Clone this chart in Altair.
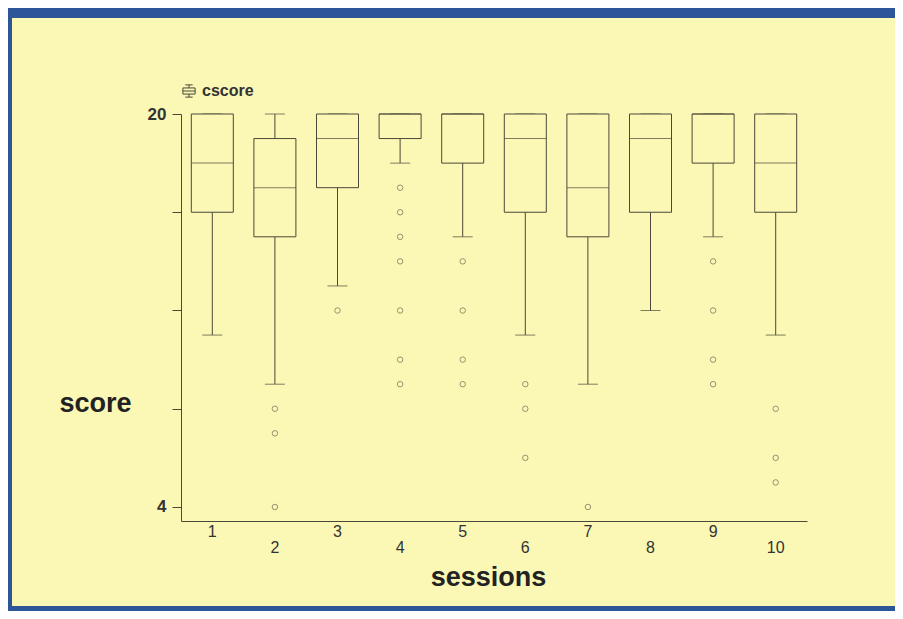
import altair as alt
import pandas as pd

# ---- data ----
sessions = ["1", "2", "3", "4", "5", "6", "7", "8", "9", "10"]
whisker_low = [11, 9, 13, 18, 15, 11, 9, 12, 15, 11]
q1 = [16, 15, 17, 19, 18, 16, 15, 16, 18, 16]
median = [18, 17, 19, 20, 20, 19, 17, 19, 20, 18]
q3 = [20, 19, 20, 20, 20, 20, 20, 20, 20, 20]
whisker_high = [20, 20, 20, 20, 20, 20, 20, 20, 20, 20]
outliers = [
    [],
    [8, 7, 4],
    [12],
    [17, 16, 15, 14, 12, 10, 9],
    [14, 12, 10, 9],
    [9, 8, 6],
    [4],
    [],
    [14, 12, 10, 9],
    [8, 6, 5],
]
series_name = "cscore"

# ---- styling ----
LINE = "#4a4838"
PT = "#6a6850"
YELLOW = "#fbf8b6"
BLUE = "#2c5698"
FONT = "Liberation Sans"

box_df = pd.DataFrame({
    "sessions": sessions,
    "lo": whisker_low,
    "q1": q1,
    "med": median,
    "q3": q3,
    "hi": whisker_high,
    "series": [series_name] * len(sessions),
})
out_df = pd.DataFrame(
    [{"sessions": s, "score": v} for s, vals in zip(sessions, outliers) for v in vals]
)

x_enc = alt.X(
    "sessions:O",
    sort=sessions,
    scale=alt.Scale(paddingInner=0, paddingOuter=0),
    axis=alt.Axis(
        title="sessions",
        zindex=1,
        labelAngle=0,
        ticks=False,
        labelFont=FONT,
        labelFontSize=16,
        labelColor="#333333",
        labelPadding={"condition": {"test": "datum.value % 2 == 0", "value": 18}, "value": 2},
        domainColor=LINE,
        titleFont=FONT,
        titleFontSize=27,
        titleFontWeight="bold",
        titleColor="#222222",
        titleX=307,
        titleY=56,
        titleAlign="center",
        titleBaseline="middle",
    ),
)

y_scale = alt.Scale(domain=[3.43, 20], nice=False, zero=False)
y_axis = alt.Axis(
    title="score",
    zindex=1,
    values=[4, 8, 12, 16, 20],
    labelExpr="datum.value == 4 || datum.value == 20 ? datum.value : ''",
    labelFont=FONT,
    labelFontSize=17,
    labelFontWeight="bold",
    labelColor="#333333",
    labelPadding=6,
    tickSize=9,
    tickColor=LINE,
    domainColor=LINE,
    grid=False,
    titleFont=FONT,
    titleFontSize=27,
    titleFontWeight="bold",
    titleColor="#222222",
    titleAngle=0,
    titleX=-86,
    titleY=289,
    titleAlign="center",
    titleBaseline="middle",
)

one = pd.DataFrame({"k": [0]})
band_top = alt.Chart(one).mark_rect(color=BLUE).encode(
    x=alt.value(-200), x2=alt.value(820), y=alt.value(-120), y2=alt.value(-96)
)
band_left = alt.Chart(one).mark_rect(color=BLUE).encode(
    x=alt.value(-200), x2=alt.value(-169), y=alt.value(-120), y2=alt.value(600)
)
band_bottom = alt.Chart(one).mark_rect(color=BLUE).encode(
    x=alt.value(-200), x2=alt.value(820), y=alt.value(492), y2=alt.value(600)
)

base = alt.Chart(box_df)

whisk_low = base.mark_rule(color=LINE, strokeWidth=1).encode(
    x=x_enc, y=alt.Y("lo:Q", scale=y_scale, axis=y_axis), y2="q1:Q"
)
whisk_high = base.mark_rule(color=LINE, strokeWidth=1).encode(
    x=x_enc, y=alt.Y("q3:Q", scale=y_scale), y2="hi:Q"
)
cap_low = base.mark_tick(color=LINE, size=20, thickness=1).encode(
    x=x_enc, y=alt.Y("lo:Q", scale=y_scale)
)
cap_high = base.mark_tick(color=LINE, size=20, thickness=1).encode(
    x=x_enc, y=alt.Y("hi:Q", scale=y_scale)
)
boxes = base.mark_bar(size=42, fill=YELLOW, strokeWidth=1).encode(
    x=x_enc,
    y=alt.Y("q1:Q", scale=y_scale),
    y2="q3:Q",
    stroke=alt.Stroke(
        "series:N",
        scale=alt.Scale(range=[LINE]),
        legend=alt.Legend(
            title=None,
            orient="none",
            legendX=0,
            legendY=-31,
            padding=0,
            symbolType="M-0.6,-1H0.6M0,-1V-0.5M-1,-0.5H1V0.5H-1ZM-1,0H1M0,0.5V1M-0.6,1H0.6",
            symbolSize=150,
            symbolStrokeWidth=1,
            symbolFillColor="transparent",
            labelFont=FONT,
            labelFontSize=16,
            labelFontWeight="bold",
            labelColor="#333333",
            labelOffset=5,
        ),
    ),
)
medians = base.mark_tick(color=LINE, size=42, thickness=1).encode(
    x=x_enc, y=alt.Y("med:Q", scale=y_scale)
)
points = alt.Chart(out_df).mark_point(
    shape="circle", size=30, color=PT, strokeWidth=1, filled=False
).encode(x=x_enc, y=alt.Y("score:Q", scale=y_scale))

chart = alt.layer(
    band_top, band_left, band_bottom,
    whisk_low, whisk_high, cap_low, cap_high, boxes, medians, points
).properties(
    width=626,
    height=407,
    padding={"left": 173, "top": 106, "right": 88, "bottom": 90},
    autosize=alt.AutoSizeParams(type="none"),
).configure(
    background=YELLOW,
).configure_view(
    stroke=None
)

chart.save("out.html", embed_options={"renderer": "svg", "actions": False})
